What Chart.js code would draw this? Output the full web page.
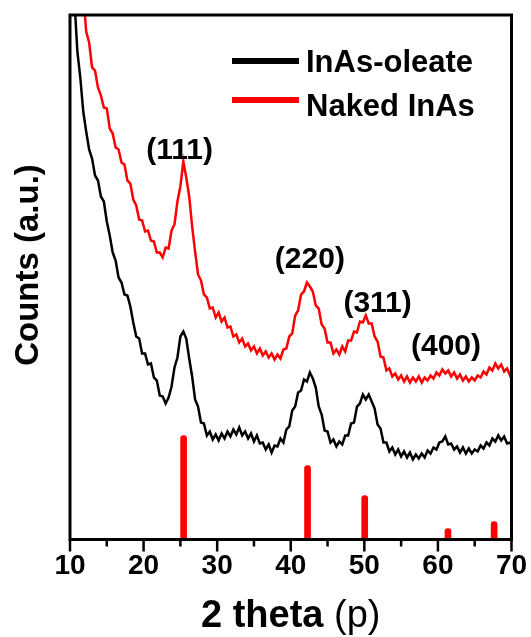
<!DOCTYPE html>
<html>
<head>
<meta charset="utf-8">
<title>XRD – InAs</title>
<script src="https://cdn.jsdelivr.net/npm/chart.js@4.4.1/dist/chart.umd.min.js"></script>
<style>
  html, body { margin: 0; padding: 0; background: #fff; }
  #wrap { width: 531px; height: 637px; }
</style>
</head>
<body>
<div id="wrap"><canvas id="xrd" width="531" height="637"></canvas></div>
<script>
// 2 theta grid (deg), shared by both scans
const twoTheta = [
  10.6, 11.0, 11.4, 11.8, 12.2, 12.6, 13.0, 13.4, 13.8, 14.2,
  14.6, 15.0, 15.4, 15.8, 16.2, 16.6, 17.0, 17.4, 17.8, 18.2,
  18.6, 19.0, 19.4, 19.8, 20.2, 20.6, 21.0, 21.4, 21.8, 22.2,
  22.6, 23.0, 23.4, 23.8, 24.2, 24.6, 25.0, 25.4, 25.8, 26.2,
  26.6, 27.0, 27.4, 27.8, 28.2, 28.6, 29.0, 29.4, 29.8, 30.2,
  30.6, 31.0, 31.4, 31.8, 32.2, 32.6, 33.0, 33.4, 33.8, 34.2,
  34.6, 35.0, 35.4, 35.8, 36.2, 36.6, 37.0, 37.4, 37.8, 38.2,
  38.6, 39.0, 39.4, 39.8, 40.2, 40.6, 41.0, 41.4, 41.8, 42.2,
  42.6, 43.0, 43.4, 43.8, 44.2, 44.6, 45.0, 45.4, 45.8, 46.2,
  46.6, 47.0, 47.4, 47.8, 48.2, 48.6, 49.0, 49.4, 49.8, 50.2,
  50.6, 51.0, 51.4, 51.8, 52.2, 52.6, 53.0, 53.4, 53.8, 54.2,
  54.6, 55.0, 55.4, 55.8, 56.2, 56.6, 57.0, 57.4, 57.8, 58.2,
  58.6, 59.0, 59.4, 59.8, 60.2, 60.6, 61.0, 61.4, 61.8, 62.2,
  62.6, 63.0, 63.4, 63.8, 64.2, 64.6, 65.0, 65.4, 65.8, 66.2,
  66.6, 67.0, 67.4, 67.8, 68.2, 68.6, 69.0, 69.4, 69.8, 70.2
];

// counts (a.u., offset for display)
const oleateCounts = [
  540, 488, 462, 428, 408, 390, 381, 364, 359, 343,
  338, 318, 304, 287, 279, 262, 257, 245, 244, 233,
  217, 203, 201, 186, 186, 175, 176, 162, 159, 144,
  143, 136, 142, 153, 172, 182, 203, 208, 201, 181,
  163, 140, 133, 117, 116, 104, 108, 100, 105, 99,
  106, 101, 108, 103, 110, 105, 112, 104, 108, 101,
  106, 98, 104, 96, 97, 90, 95, 87, 94, 93,
  101, 97, 110, 113, 129, 133, 147, 149, 160, 158,
  167, 161, 152, 133, 125, 109, 108, 97, 100, 93,
  98, 95, 104, 104, 116, 117, 133, 136, 145, 140,
  145, 138, 131, 115, 111, 97, 97, 88, 92, 85,
  90, 83, 88, 82, 87, 80, 85, 81, 86, 82,
  89, 86, 92, 90, 97, 98, 103, 95, 96, 90,
  93, 87, 92, 86, 91, 86, 90, 88, 94, 91,
  97, 94, 101, 98, 104, 99, 103, 96, 97, 92
];

const nakedCounts = [
  null, null, null, 545, 508, 497, 472, 469, 452, 444,
  432, 431, 411, 406, 392, 390, 377, 375, 359, 356,
  340, 334, 320, 319, 308, 309, 299, 298, 287, 287,
  282, 292, 291, 309, 315, 338, 353, 378, 362, 343,
  313, 288, 265, 259, 245, 242, 231, 232, 222, 227,
  218, 222, 212, 213, 203, 205, 197, 201, 193, 196,
  189, 193, 186, 191, 184, 188, 182, 186, 180, 185,
  181, 190, 191, 203, 206, 224, 229, 245, 248, 257,
  253, 248, 234, 231, 215, 211, 197, 197, 186, 190,
  185, 193, 188, 199, 199, 208, 207, 218, 217, 224,
  216, 216, 203, 198, 183, 182, 169, 171, 163, 166,
  160, 164, 158, 163, 157, 162, 158, 163, 157, 162,
  159, 164, 161, 167, 164, 170, 166, 169, 163, 167,
  161, 165, 159, 163, 158, 162, 159, 164, 162, 168,
  165, 172, 169, 176, 171, 175, 168, 171, 164, 168
];

// zinc blende InAs reference lines
const refTheta = [25.44, 42.28, 50.05, 61.36, 67.64];
const refIntensity = [104, 74, 44, 11, 18];

// peak labels
const peakLabels = ['(111)', '(220)', '(311)', '(400)'];
const peakLabelTheta = [24.9, 42.6, 51.8, 61.1];
const peakLabelCounts = [389, 280, 236, 193];

// axis ticks
const majorTicks = [10, 20, 30, 40, 50, 60, 70];
const minorTicks = [15, 25, 35, 45, 55, 65];

const FONT = '"Liberation Sans", Arial, sans-serif';

function toPoints(xs, ys) {
  return xs.map((x, i) => ({ x: x, y: ys[i] }));
}

// frame, ticks, titles, legend and peak labels
const decorations = {
  id: 'decorations',
  afterDatasetsDraw(chart) {
    const ctx = chart.ctx;
    const { left, right, top, bottom } = chart.chartArea;
    const xs = chart.scales.x;
    const ys = chart.scales.y;
    ctx.save();

    ctx.strokeStyle = '#000';
    ctx.lineWidth = 3;
    ctx.strokeRect(left, top, right - left, bottom - top);

    ctx.lineWidth = 2.5;
    ctx.beginPath();
    majorTicks.forEach((v) => {
      const px = xs.getPixelForValue(v);
      ctx.moveTo(px, bottom); ctx.lineTo(px, bottom + 12);
    });
    minorTicks.forEach((v) => {
      const px = xs.getPixelForValue(v);
      ctx.moveTo(px, bottom); ctx.lineTo(px, bottom + 7);
    });
    ctx.stroke();

    ctx.fillStyle = '#000';
    ctx.font = 'bold 28px ' + FONT;
    ctx.textAlign = 'center';
    ctx.textBaseline = 'alphabetic';
    majorTicks.forEach((v) => {
      ctx.fillText(String(v), xs.getPixelForValue(v), 574);
    });

    // x title: "(p)" is set in the regular face
    const bold = 'bold 38px ' + FONT;
    const reg = '38px ' + FONT;
    const a = '2 theta ';
    const b = '(p)';
    ctx.font = bold; const wa = ctx.measureText(a).width;
    ctx.font = reg; const wb = ctx.measureText(b).width;
    const cx = (left + right) / 2;
    const x0 = cx - (wa + wb) / 2;
    ctx.textAlign = 'left';
    ctx.font = bold; ctx.fillText(a, x0, 627);
    ctx.font = reg; ctx.fillText(b, x0 + wa, 627);

    // y title
    ctx.save();
    ctx.translate(29, 265);
    ctx.rotate(-Math.PI / 2);
    ctx.font = 'bold 33px ' + FONT;
    ctx.textAlign = 'center';
    ctx.textBaseline = 'middle';
    ctx.fillText('Counts (a.u.)', 0, 0);
    ctx.restore();

    // legend
    const rows = [
      { ds: chart.data.datasets[0], lineY: 61, textY: 72 },
      { ds: chart.data.datasets[1], lineY: 100, textY: 116 }
    ];
    rows.forEach(({ ds, lineY, textY }) => {
      ctx.strokeStyle = ds.borderColor;
      ctx.lineWidth = 6;
      ctx.beginPath();
      ctx.moveTo(232, lineY); ctx.lineTo(299, lineY);
      ctx.stroke();
      ctx.fillStyle = '#000';
      ctx.font = 'bold 31px ' + FONT;
      ctx.textAlign = 'left';
      ctx.textBaseline = 'alphabetic';
      ctx.fillText(ds.label, 306, textY);
    });

    // peak indices
    ctx.font = 'bold 30px ' + FONT;
    ctx.textAlign = 'center';
    ctx.textBaseline = 'middle';
    ctx.fillStyle = '#000';
    peakLabels.forEach((t, i) => {
      ctx.fillText(t, xs.getPixelForValue(peakLabelTheta[i]), ys.getPixelForValue(peakLabelCounts[i]));
    });

    ctx.restore();
  }
};

const chart = new Chart(document.getElementById('xrd').getContext('2d'), {
  type: 'scatter',
  data: {
    datasets: [
      {
        label: 'InAs-oleate',
        data: toPoints(twoTheta, oleateCounts),
        showLine: true,
        borderColor: '#000000',
        borderWidth: 2.5,
        pointRadius: 0,
        tension: 0,
        spanGaps: false
      },
      {
        label: 'Naked InAs',
        data: toPoints(twoTheta, nakedCounts),
        showLine: true,
        borderColor: '#ff0000',
        borderWidth: 2.5,
        pointRadius: 0,
        tension: 0,
        spanGaps: false
      },
      {
        type: 'bar',
        label: 'InAs ref.',
        data: toPoints(refTheta, refIntensity),
        backgroundColor: '#ff0000',
        barThickness: 6,
        borderRadius: { topLeft: 3, topRight: 3 },
        borderSkipped: 'start'
      }
    ]
  },
  options: {
    responsive: false,
    animation: false,
    events: [],
    layout: { padding: { left: 70, right: 19.5, top: 15, bottom: 97.5 } },
    plugins: { legend: { display: false }, tooltip: { enabled: false } },
    scales: {
      x: { type: 'linear', min: 10, max: 70, offset: false, display: false },
      y: { type: 'linear', min: 0, max: 524.5, display: false }
    }
  },
  plugins: [decorations]
});
</script>
</body>
</html>
